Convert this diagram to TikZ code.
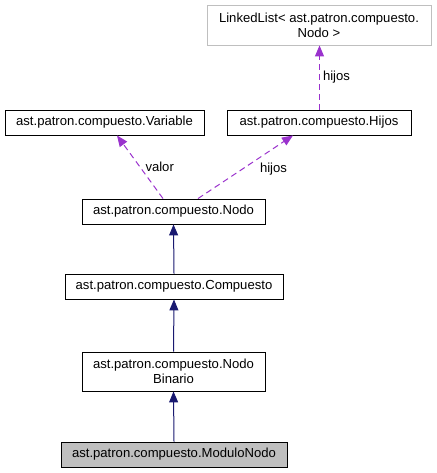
\documentclass[tikz,border=0pt]{standalone}
\usepackage{fontspec}
\setmainfont{Liberation Sans}
\usetikzlibrary{arrows.meta}
\definecolor{navy}{HTML}{191970}
\definecolor{orchid}{HTML}{9A32CD}
\definecolor{grayb}{HTML}{BFBFBF}
\tikzset{
  cls/.style={draw=black, line width=0.9pt, fill=white, inner sep=0pt, align=center,
    font=\fontsize{13.1}{15}\selectfont},
  inh/.style={draw=navy, line width=1pt, -{Triangle[length=11pt,width=9pt]}},
  use/.style={draw=orchid, line width=1pt, dash pattern=on 6pt off 4pt, -{Triangle[length=11pt,width=9pt]}},
  lbl/.style={font=\fontsize{13.1}{15}\selectfont, inner sep=0pt}
}
\begin{document}
\begin{tikzpicture}[x=1pt,y=-1pt]
\useasboundingbox (0,0) rectangle (436,473);
\node[cls, draw=grayb, minimum width=224pt, minimum height=40pt] (LL) at (319,25) {LinkedList< ast.patron.compuesto.\\Nodo >};
\node[cls, minimum width=184pt, minimum height=25pt] (Hijos) at (319,122.5) {ast.patron.compuesto.Hijos};
\node[cls, minimum width=199pt, minimum height=25pt] (Var) at (104.5,122.5) {ast.patron.compuesto.Variable};
\node[cls, minimum width=183pt, minimum height=25pt] (Nodo) at (173.5,211.5) {ast.patron.compuesto.Nodo};
\node[cls, minimum width=218pt, minimum height=25pt] (Comp) at (174,286.5) {ast.patron.compuesto.Compuesto};
\node[cls, minimum width=183pt, minimum height=39pt] (Bin) at (173.5,371.5) {ast.patron.compuesto.Nodo\\Binario};
\node[cls, fill=grayb, minimum width=226pt, minimum height=25pt] (Mod) at (174,454.5) {ast.patron.compuesto.ModuloNodo};

\draw[inh] (Mod.north) -- (Bin.south);
\draw[inh] (Bin.north) -- (Comp.south);
\draw[inh] (Comp.north) -- (Nodo.south);
\draw[use] ([xshift=-10.5pt]Nodo.north) -- ([xshift=12.5pt]Var.south) node[lbl, pos=0.5, right=5pt] {valor};
\draw[use] ([xshift=24.5pt]Nodo.north) -- ([xshift=-26pt]Hijos.south) node[lbl, pos=0.5, right=14pt, yshift=-2pt] {hijos};
\draw[use] ([xshift=0.5pt]Hijos.north) -- ([xshift=0.5pt]LL.south) node[lbl, pos=0.5, right=3pt] {hijos};
\end{tikzpicture}
\end{document}
